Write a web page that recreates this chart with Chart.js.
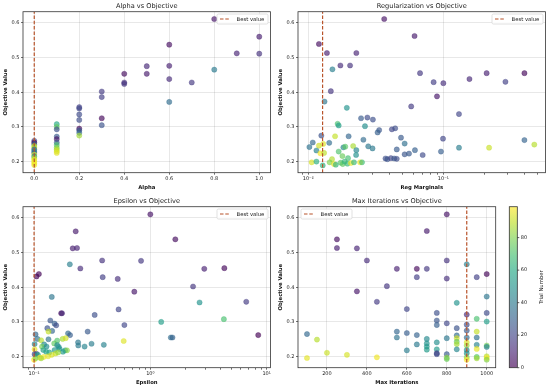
<!DOCTYPE html>
<html>
<head>
<meta charset="utf-8">
<script src="https://cdn.jsdelivr.net/npm/chart.js@4.4.0/dist/chart.umd.min.js"></script>
<style>
  body { margin: 0; background: #fff; }
  #fig { position: relative; width: 550px; height: 389px; }
  canvas { position: absolute; }
</style>
</head>
<body>
<div id="fig">
  <canvas id="alpha" width="275" height="195" style="left:0;top:0"></canvas>
  <canvas id="reg" width="275" height="195" style="left:275px;top:0"></canvas>
  <canvas id="eps" width="275" height="194" style="left:0;top:195px"></canvas>
  <canvas id="iter" width="275" height="194" style="left:275px;top:195px"></canvas>
</div>
<script>
// --- data ---
var trialMax = 99;
var objTicks = [0.2, 0.3, 0.4, 0.5, 0.6];
var objLabels = ['0.2', '0.3', '0.4', '0.5', '0.6'];
var cbarTicks = [0, 20, 40, 60, 80];

// Alpha vs Objective
var alphaValues = [0.8, 1.0, 0.9, 1.0, 0.6, 0.6, 0.6, 0.6, 0.5, 0.5, 0.4, 0.4, 0.4, 0.7, 0.8,
  0.3, 0.3, 0.3, 0.3, 0.2, 0.2, 0.2, 0.2, 0.2, 0.2, 0.2, 0.2,
  0.1, 0.1, 0.1, 0.1, 0.1, 0.1, 0.1, 0.1, 0.1, 0.1, 0.1,
  0.0, 0.0, 0.0, 0.0, 0.0, 0.0, 0.0, 0.0, 0.0, 0.0, 0.0, 0.0, 0.0, 0.0, 0.0];
var alphaObjective = [0.611, 0.560, 0.512, 0.511, 0.537, 0.476, 0.438, 0.372, 0.475, 0.453, 0.453, 0.428, 0.424, 0.428, 0.465,
  0.402, 0.386, 0.325, 0.305, 0.357, 0.353, 0.336, 0.320, 0.295, 0.290, 0.283, 0.275,
  0.308, 0.300, 0.293, 0.272, 0.265, 0.255, 0.248, 0.240, 0.235, 0.230, 0.225,
  0.260, 0.255, 0.250, 0.245, 0.240, 0.235, 0.230, 0.225, 0.220, 0.215, 0.210, 0.205, 0.200, 0.195, 0.190];
var alphaTrial = [6, 8, 10, 14, 4, 9, 12, 35, 11, 7, 3, 13, 15, 16, 40,
  17, 18, 2, 25, 19, 21, 22, 23, 1, 26, 33, 85,
  60, 75, 24, 27, 5, 29, 70, 80, 88, 92, 95,
  20, 0, 30, 90, 86, 28, 45, 31, 93, 50, 89, 97, 94, 99, 96];
var alphaTicks = [0, 0.2, 0.4, 0.6, 0.8, 1.0];
var alphaLabels = ['0.0', '0.2', '0.4', '0.6', '0.8', '1.0'];
var bestAlpha = 0.0;

// Regularization vs Objective
var regValues = [0.0365, 0.0120, 0.01375, 0.0227, 0.0612, 0.0151, 0.0173, 0.0204, 0.0672, 0.209, 0.398, 0.156,
  0.0847, 0.100, 0.288, 0.0147, 0.0897, 0.0132, 0.0578, 0.0193, 0.1305, 0.0246, 0.0274, 0.0301,
  0.0165, 0.0168, 0.0263, 0.0335, 0.0326, 0.0416, 0.0440, 0.0125, 0.0158, 0.0199, 0.0486, 0.0256,
  0.0994, 0.398, 0.0108, 0.0143, 0.0129, 0.0120, 0.0517, 0.471, 0.0102, 0.0278, 0.0299, 0.0182,
  0.0215, 0.1305, 0.218, 0.0115, 0.0227, 0.0616, 0.0452, 0.0226, 0.0517, 0.0557, 0.0703, 0.096,
  0.0373, 0.0385, 0.0409, 0.0433, 0.0452, 0.0106, 0.0115, 0.0128, 0.0150, 0.0144, 0.0155, 0.0160,
  0.0174, 0.0180, 0.0186, 0.0195, 0.0207, 0.0218, 0.0242, 0.0250, 0.0179, 0.0197, 0.0168, 0.0188,
  0.0123, 0.0131];
var regObjective = [0.611, 0.539, 0.513, 0.513, 0.562, 0.466, 0.477, 0.477, 0.455, 0.455, 0.455, 0.438,
  0.429, 0.426, 0.430, 0.403, 0.388, 0.373, 0.359, 0.355, 0.337, 0.325, 0.327, 0.321,
  0.309, 0.304, 0.302, 0.291, 0.284, 0.293, 0.296, 0.275, 0.273, 0.273, 0.269, 0.263,
  0.266, 0.262, 0.255, 0.254, 0.251, 0.246, 0.252, 0.249, 0.242, 0.244, 0.238, 0.241,
  0.245, 0.240, 0.240, 0.232, 0.233, 0.233, 0.235, 0.219, 0.221, 0.223, 0.219, 0.229,
  0.209, 0.207, 0.210, 0.209, 0.208, 0.198, 0.200, 0.189, 0.207, 0.198, 0.193, 0.191,
  0.197, 0.193, 0.200, 0.194, 0.196, 0.198, 0.198, 0.198, 0.216, 0.210, 0.229, 0.243,
  0.224, 0.225];
var regTrial = [5, 3, 8, 10, 7, 42, 12, 14, 16, 9, 2, 11,
  18, 13, 19, 15, 6, 38, 17, 50, 20, 28, 22, 24,
  70, 55, 48, 26, 30, 21, 23, 25, 90, 32, 27, 34,
  20, 31, 33, 35, 94, 92, 36, 88, 37, 39, 40, 44,
  86, 41, 91, 43, 45, 30, 28, 49, 26, 27, 22, 29,
  24, 25, 21, 26, 23, 93, 62, 63, 87, 80, 95, 64,
  72, 74, 65, 66, 96, 67, 97, 68, 76, 69, 71, 73,
  98, 89];
var regTicks = [0.01, 0.1];
var regLabels = ['10\u207b\u00b2', '10\u207b\u00b9'];
var bestReg = 0.01277;

// Epsilon vs Objective
var epsValues = [1.0, 0.228, 1.64, 0.215, 0.234, 0.203, 0.250, 0.385, 0.832, 0.389, 0.524, 2.91, 4.33,
  0.110, 0.105, 2.33, 0.728, 0.142, 2.65, 6.68, 0.533, 0.171, 0.174, 0.332, 1.24, 4.29,
  0.138, 0.150, 0.155, 0.598, 0.130, 0.143, 0.289, 0.196, 0.204, 0.103, 0.133, 8.47,
  1.50, 1.55, 0.107, 0.133, 0.176, 0.187, 0.158, 0.590, 0.115, 0.239, 0.240, 0.312,
  0.398, 0.272, 0.101, 0.122, 0.149, 0.158, 0.117, 0.128, 0.163, 0.166, 0.150, 0.185,
  0.192, 0.177, 0.101, 0.120, 0.127, 0.135, 0.105, 0.101, 0.108, 0.153, 0.161, 0.142,
  0.132, 0.121, 0.112, 0.100, 0.103, 0.115];
var epsObjective = [0.610, 0.561, 0.538, 0.512, 0.513, 0.466, 0.454, 0.477, 0.476, 0.429, 0.424, 0.453, 0.455,
  0.438, 0.431, 0.402, 0.387, 0.372, 0.356, 0.358, 0.336, 0.325, 0.325, 0.320, 0.300, 0.308,
  0.304, 0.295, 0.290, 0.291, 0.282, 0.274, 0.272, 0.267, 0.262, 0.264, 0.272, 0.262,
  0.255, 0.255, 0.251, 0.250, 0.251, 0.253, 0.246, 0.245, 0.247, 0.241, 0.232, 0.237,
  0.234, 0.229, 0.236, 0.235, 0.238, 0.233, 0.229, 0.229, 0.228, 0.222, 0.219, 0.218,
  0.218, 0.214, 0.221, 0.219, 0.214, 0.212, 0.208, 0.207, 0.205, 0.209, 0.212, 0.205,
  0.201, 0.199, 0.197, 0.191, 0.195, 0.195];
var epsTrial = [5, 7, 3, 8, 10, 42, 12, 14, 16, 18, 13, 9, 2,
  1, 0, 15, 6, 38, 50, 17, 20, 4, 11, 24, 55, 70,
  26, 30, 23, 21, 25, 32, 27, 34, 29, 33, 90, 0,
  35, 31, 36, 37, 86, 92, 72, 94, 88, 39, 40, 41,
  43, 44, 45, 46, 75, 47, 78, 48, 49, 51, 52, 53,
  82, 54, 96, 56, 57, 58, 19, 22, 59, 91, 84, 93,
  95, 97, 98, 99, 80, 85];
var epsTicks = [0.1, 1, 10];
var epsLabels = ['10\u207b\u00b9', '10\u2070', '10\u00b9'];
var bestEps = 0.1;

// Max Iterations vs Objective
var iterValues = [800, 700, 250, 250, 350, 400, 800, 900, 550, 650, 700, 1000, 650, 800, 950,
  500, 350, 1000, 450, 850, 600, 750, 900, 1000, 950, 750, 1000, 750, 800, 900,
  850, 900, 550, 600, 950, 100, 650, 850, 900, 950, 550, 700, 800, 850, 150,
  750, 850, 900, 850, 650, 700, 950, 1000, 1000, 700, 900, 850, 950, 750, 700,
  600, 900, 200, 300, 750, 750, 800, 900, 100, 450, 800, 800, 900, 900, 950,
  950, 1000, 1000, 1000];
var iterObjective = [0.610, 0.562, 0.538, 0.513, 0.512, 0.477, 0.477, 0.466, 0.453, 0.453, 0.453, 0.438, 0.429, 0.425, 0.429,
  0.403, 0.388, 0.373, 0.358, 0.355, 0.337, 0.326, 0.321, 0.326, 0.309, 0.304, 0.301, 0.291, 0.296, 0.292,
  0.282, 0.275, 0.272, 0.268, 0.272, 0.265, 0.262, 0.261, 0.255, 0.255, 0.255, 0.251, 0.253, 0.253, 0.249,
  0.241, 0.243, 0.241, 0.236, 0.235, 0.238, 0.234, 0.232, 0.228, 0.229, 0.232, 0.221, 0.222, 0.221, 0.220,
  0.218, 0.219, 0.211, 0.205, 0.210, 0.207, 0.207, 0.210, 0.196, 0.198, 0.197, 0.193, 0.198, 0.191, 0.199,
  0.195, 0.201, 0.196, 0.191];
var iterTrial = [5, 7, 3, 8, 10, 12, 14, 42, 9, 2, 16, 1, 18, 13, 19,
  15, 6, 38, 17, 50, 20, 24, 11, 22, 70, 26, 55, 30, 21, 23,
  25, 27, 32, 29, 90, 33, 31, 34, 35, 36, 37, 46, 39, 92, 88,
  48, 75, 94, 86, 40, 50, 43, 78, 44, 52, 84, 45, 96, 53, 54,
  41, 47, 91, 93, 19, 22, 28, 49, 95, 97, 82, 76, 80, 98, 72,
  85, 89, 99, 81];
var iterTicks = [200, 400, 600, 800, 1000];
var iterLabels = ['200', '400', '600', '800', '1000'];
var bestIter = 900;

// --- helpers ---
Chart.defaults.font.family = "'DejaVu Sans', sans-serif";
Chart.defaults.color = '#222';

var viridisStops = ['#440154', '#482475', '#414487', '#355f8d', '#2a788e', '#21918c',
  '#22a884', '#44bf70', '#7ad151', '#bddf26', '#fde725'];

function viridis(t, a) {
  t = Math.max(0, Math.min(1, t));
  var p = t * 10, i = Math.min(9, Math.floor(p)), f = p - i;
  var c0 = viridisStops[i], c1 = viridisStops[i + 1];
  var rgb = [1, 3, 5].map(function(k) {
    var v0 = parseInt(c0.substr(k, 2), 16), v1 = parseInt(c1.substr(k, 2), 16);
    return Math.round(v0 + (v1 - v0) * f);
  });
  return 'rgba(' + rgb[0] + ',' + rgb[1] + ',' + rgb[2] + ',' + a + ')';
}

var lineColor = '#b8532a';
var gridColor = 'rgba(0,0,0,0.09)';
var pointAlpha = 0.65;
var yMin = 0.168, yMax = 0.632;

var framePlugin = {
  id: 'frame',
  afterDraw: function(chart) {
    var a = chart.chartArea, ctx = chart.ctx;
    ctx.save();
    ctx.strokeStyle = '#333';
    ctx.lineWidth = 0.8;
    ctx.strokeRect(a.left, a.top, a.right - a.left, a.bottom - a.top);
    ctx.restore();
  }
};

var legendPlugin = {
  id: 'bestLegend',
  afterDraw: function(chart, args, opts) {
    var a = chart.chartArea, ctx = chart.ctx;
    var w = 51, h = 10;
    var x = opts.side === 'left' ? a.left + 3 : a.right - 2.5 - w;
    var y = a.top + 2.3;
    ctx.save();
    ctx.beginPath();
    ctx.roundRect(x, y, w, h, 1.5);
    ctx.fillStyle = 'rgba(255,255,255,0.85)';
    ctx.fill();
    ctx.strokeStyle = '#d4d4d4';
    ctx.lineWidth = 0.7;
    ctx.stroke();
    ctx.beginPath();
    ctx.setLineDash([3.5, 1.8]);
    ctx.strokeStyle = lineColor;
    ctx.lineWidth = 1.2;
    ctx.moveTo(x + 3, y + h / 2);
    ctx.lineTo(x + 13, y + h / 2);
    ctx.stroke();
    ctx.setLineDash([]);
    ctx.fillStyle = '#222';
    ctx.font = "5.3px 'DejaVu Sans'";
    ctx.textBaseline = 'middle';
    ctx.fillText('Best value', x + 19.5, y + h / 2 + 0.3);
    ctx.restore();
  }
};

var colorbarPlugin = {
  id: 'colorbar',
  afterDraw: function(chart) {
    var a = chart.chartArea, ctx = chart.ctx;
    var x = a.right + 13.6, w = 8, top = a.top, bottom = a.bottom, h = bottom - top;
    ctx.save();
    var g = ctx.createLinearGradient(0, bottom, 0, top);
    for (var i = 0; i <= 10; i++) g.addColorStop(i / 10, viridis(i / 10, pointAlpha));
    ctx.fillStyle = g;
    ctx.fillRect(x, top, w, h);
    ctx.strokeStyle = '#333';
    ctx.lineWidth = 0.8;
    ctx.strokeRect(x, top, w, h);
    ctx.fillStyle = '#222';
    ctx.font = "5px 'DejaVu Sans'";
    ctx.textBaseline = 'middle';
    cbarTicks.forEach(function(v) {
      var ty = bottom - v / trialMax * h;
      ctx.beginPath();
      ctx.moveTo(x + w, ty);
      ctx.lineTo(x + w + 2, ty);
      ctx.stroke();
      ctx.fillText(String(v), x + w + 3.5, ty);
    });
    ctx.translate(x + w + 24, (top + bottom) / 2);
    ctx.rotate(-Math.PI / 2);
    ctx.textAlign = 'center';
    ctx.font = "5.3px 'DejaVu Sans'";
    ctx.fillText('Trial Number', 0, 0);
    ctx.restore();
  }
};

function withMinor(majors) {
  var out = majors.map(function(v) { return {value: v}; });
  var lo = Math.floor(Math.log10(majors[0])) - 1, hi = Math.ceil(Math.log10(majors[majors.length - 1])) + 1;
  for (var e = lo; e <= hi; e++) {
    for (var m = 2; m <= 9; m++) out.push({value: m * Math.pow(10, e), minor: true});
  }
  return out;
}

function makeChart(id, cfg) {
  var points = cfg.xs.map(function(x, i) { return {x: x, y: cfg.ys[i]}; });
  var colors = cfg.trials.map(function(t) { return viridis(t / trialMax, pointAlpha); });
  return new Chart(document.getElementById(id).getContext('2d'), {
    type: 'scatter',
    data: {
      datasets: [
        {
          label: 'Best value',
          data: [{x: cfg.best, y: yMin}, {x: cfg.best, y: yMax}],
          showLine: true,
          borderColor: lineColor,
          borderWidth: 1.2,
          borderDash: [3.5, 1.8],
          pointRadius: 0
        },
        {
          label: 'Trials',
          data: points,
          backgroundColor: colors,
          borderColor: colors,
          borderWidth: 0.5,
          pointRadius: 2.6
        }
      ]
    },
    options: {
      responsive: false,
      animation: false,
      events: [],
      layout: {padding: {right: cfg.padRight, left: 0, top: 0, bottom: 0}},
      plugins: {
        legend: {display: false},
        tooltip: {enabled: false},
        title: {
          display: true, text: cfg.title, fullSize: false,
          font: {size: 6.6, weight: 'normal'}, color: '#222',
          padding: {top: 2, bottom: 1.8}
        },
        bestLegend: {side: cfg.legendSide}
      },
      scales: {
        x: {
          type: cfg.log ? 'logarithmic' : 'linear',
          min: cfg.xMin, max: cfg.xMax,
          afterBuildTicks: function(s) {
            s.ticks = cfg.log ? withMinor(cfg.ticks).filter(function(t) {
              return t.value >= cfg.xMin && t.value <= cfg.xMax;
            }) : cfg.ticks.map(function(v) { return {value: v}; });
          },
          afterFit: function(s) { s.height = cfg.xAxisHeight; },
          ticks: {
            autoSkip: false, maxRotation: 0, padding: 1.5,
            font: {size: 5}, color: '#222',
            callback: function(v) {
              var k = cfg.ticks.indexOf(v);
              return k >= 0 ? cfg.labels[k] : '';
            }
          },
          grid: {
            color: function(c) { return c.tick && c.tick.minor ? 'rgba(0,0,0,0)' : gridColor; },
            tickColor: '#333', tickLength: 2, tickWidth: 0.7
          },
          border: {display: false},
          title: {
            display: true, text: cfg.xTitle, color: '#111',
            font: {size: 5.3, weight: 'bold'},
            padding: {top: 0, bottom: cfg.xTitlePad}
          }
        },
        y: {
          min: yMin, max: yMax,
          afterBuildTicks: function(s) { s.ticks = objTicks.map(function(v) { return {value: v}; }); },
          afterFit: function(s) { s.width = 23; },
          ticks: {
            padding: 1.5, font: {size: 5}, color: '#222',
            callback: function(v, i) { return objLabels[i]; }
          },
          grid: {color: gridColor, tickColor: '#333', tickLength: 2, tickWidth: 0.7},
          border: {display: false},
          title: {
            display: true, text: 'Objective Value', color: '#111',
            font: {size: 5.3, weight: 'bold'},
            padding: {top: 2.5, bottom: 0}
          }
        }
      }
    },
    plugins: cfg.extra ? [framePlugin, legendPlugin, cfg.extra] : [framePlugin, legendPlugin]
  });
}

makeChart('alpha', {
  title: 'Alpha vs Objective', xTitle: 'Alpha',
  xs: alphaValues, ys: alphaObjective, trials: alphaTrial, best: bestAlpha,
  xMin: -0.05, xMax: 1.05, ticks: alphaTicks, labels: alphaLabels,
  padRight: 4.3, xAxisHeight: 22.3, xTitlePad: 4.5, legendSide: 'right'
});
makeChart('reg', {
  title: 'Regularization vs Objective', xTitle: 'Reg Marginals', log: true,
  xs: regValues, ys: regObjective, trials: regTrial, best: bestReg,
  xMin: 0.0084, xMax: 0.57, ticks: regTicks, labels: regLabels,
  padRight: 4, xAxisHeight: 22.3, xTitlePad: 4.5, legendSide: 'right'
});
makeChart('eps', {
  title: 'Epsilon vs Objective', xTitle: 'Epsilon', log: true,
  xs: epsValues, ys: epsObjective, trials: epsTrial, best: bestEps,
  xMin: 0.0803, xMax: 10.8, ticks: epsTicks, labels: epsLabels,
  padRight: 4.3, xAxisHeight: 21.3, xTitlePad: 3.5, legendSide: 'right'
});
makeChart('iter', {
  title: 'Max Iterations vs Objective', xTitle: 'Max Iterations',
  xs: iterValues, ys: iterObjective, trials: iterTrial, best: bestIter,
  xMin: 55, xMax: 1045, ticks: iterTicks, labels: iterLabels,
  padRight: 54.3, xAxisHeight: 21.3, xTitlePad: 3.5, legendSide: 'left',
  extra: colorbarPlugin
});
</script>
</body>
</html>
